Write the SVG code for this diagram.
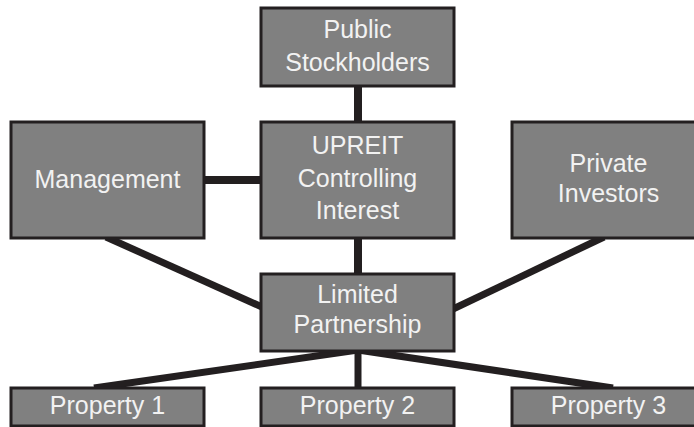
<svg xmlns="http://www.w3.org/2000/svg" width="694" height="427" viewBox="0 0 694 427">
  <style>
    .box { fill: #808080; stroke: #231f20; stroke-width: 3; }
    .lbl { font-family: "Liberation Sans", Arial, sans-serif; font-size: 25px; fill: #f2f2f2; text-anchor: middle; }
    .link { stroke: #231f20; stroke-linecap: butt; fill: none; }
  </style>
  <rect width="694" height="427" fill="#ffffff"/>

  <!-- connectors -->
  <g id="connectors">
    <line class="link" x1="358" y1="86" x2="358" y2="122" stroke-width="8"/>
    <line class="link" x1="204" y1="180" x2="261" y2="180" stroke-width="8"/>
    <line class="link" x1="358" y1="238" x2="358" y2="274" stroke-width="8"/>
    <line class="link" x1="106" y1="237" x2="262" y2="307" stroke-width="7"/>
    <line class="link" x1="604" y1="237" x2="453" y2="309" stroke-width="7"/>
    <line class="link" x1="358" y1="351" x2="358" y2="388" stroke-width="7"/>
    <line class="link" x1="358" y1="350" x2="94" y2="388" stroke-width="7"/>
    <line class="link" x1="358" y1="350" x2="613" y2="388" stroke-width="7"/>
  </g>

  <g id="public-stockholders">
    <rect class="box" x="261" y="8" width="193" height="78"/>
    <text class="lbl" x="357.5" y="38">Public</text>
    <text class="lbl" x="357.5" y="71">Stockholders</text>
  </g>

  <g id="management">
    <rect class="box" x="11" y="122" width="193" height="116"/>
    <text class="lbl" x="107.5" y="188">Management</text>
  </g>

  <g id="upreit">
    <rect class="box" x="261" y="122" width="193" height="116"/>
    <text class="lbl" x="357.5" y="154">UPREIT</text>
    <text class="lbl" x="357.5" y="187">Controlling</text>
    <text class="lbl" x="357.5" y="219">Interest</text>
  </g>

  <g id="private-investors">
    <rect class="box" x="512" y="122" width="193" height="116"/>
    <text class="lbl" x="608.5" y="172">Private</text>
    <text class="lbl" x="608.5" y="202">Investors</text>
  </g>

  <g id="limited-partnership">
    <rect class="box" x="261" y="274" width="193" height="77"/>
    <text class="lbl" x="357.5" y="303">Limited</text>
    <text class="lbl" x="357.5" y="333">Partnership</text>
  </g>

  <g id="property-1">
    <rect class="box" x="11" y="388" width="193" height="38"/>
    <text class="lbl" x="107.5" y="414">Property 1</text>
  </g>

  <g id="property-2">
    <rect class="box" x="261" y="388" width="193" height="38"/>
    <text class="lbl" x="357.5" y="414">Property 2</text>
  </g>

  <g id="property-3">
    <rect class="box" x="512" y="388" width="193" height="38"/>
    <text class="lbl" x="608.5" y="414">Property 3</text>
  </g>
</svg>
